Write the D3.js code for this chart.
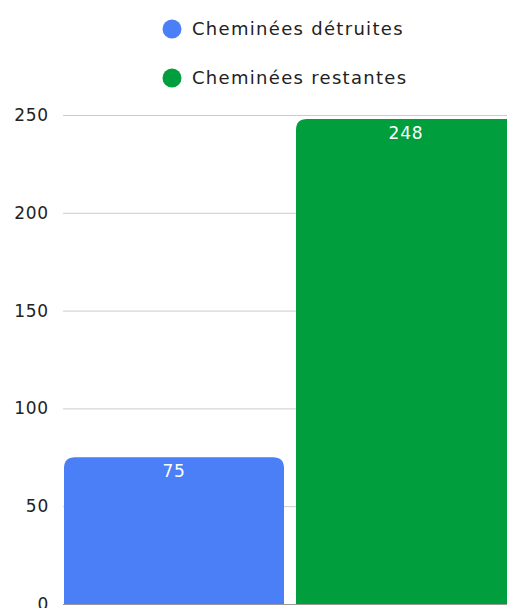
<html lang="en">
<head>
<meta charset="UTF-8">
<title>Cheminées</title>
<script src="https://d3js.org/d3.v7.min.js"></script>
<style>
  body { margin: 0; background: #fff; overflow: hidden; }
  svg { display: block; font-family: "DejaVu Sans", "Noto Sans", sans-serif; }
</style>
</head>
<body>
<div id="chart"></div>
<script>
// data
var categories = ["Cheminées détruites", "Cheminées restantes"];
var values = [75, 248];
var colors = ["#4a7ff8", "#009e3c"];
var yTicks = [0, 50, 100, 150, 200, 250];

var width = 507, height = 608;

var svg = d3.select("#chart").append("svg")
    .attr("width", width)
    .attr("height", height);

// scales
var y = d3.scaleLinear().domain([0, 250]).range([604, 115]);
var x = d3.scaleBand()
    .domain(categories)
    .range([58, 58 + 2 * 232])
    .paddingInner(12 / 232)
    .paddingOuter(6 / 232);

// gridlines + tick labels
var grid = svg.append("g");
grid.selectAll("line")
    .data(yTicks.filter(function(d) { return d > 0; }))
    .enter().append("line")
    .attr("x1", 63).attr("x2", width)
    .attr("y1", function(d) { return y(d) + 0.5; })
    .attr("y2", function(d) { return y(d) + 0.5; })
    .attr("stroke", "#cccccc")
    .attr("stroke-width", 1);

grid.selectAll("text")
    .data(yTicks)
    .enter().append("text")
    .attr("x", 49)
    .attr("y", function(d) { return y(d); })
    .attr("dy", "0.35em")
    .attr("text-anchor", "end")
    .style("font-size", "17px")
    .style("letter-spacing", "0.8px")
    .attr("fill", "#222")
    .text(function(d) { return d; });

// bars with rounded top corners
function topRounded(x0, y0, w, h, r) {
  r = Math.min(r, h, w / 2);
  return "M" + x0 + "," + (y0 + h) +
    "V" + (y0 + r) +
    "Q" + x0 + "," + y0 + " " + (x0 + r) + "," + y0 +
    "H" + (x0 + w - r) +
    "Q" + (x0 + w) + "," + y0 + " " + (x0 + w) + "," + (y0 + r) +
    "V" + (y0 + h) + "Z";
}

var bars = svg.append("g");
bars.selectAll("path")
    .data(values)
    .enter().append("path")
    .attr("fill", function(d, i) { return colors[i]; })
    .attr("d", function(d, i) {
      var bx = x(categories[i]);
      return topRounded(bx, y(d), x.bandwidth(), y(0) - y(d), 11);
    });

bars.selectAll("text")
    .data(values)
    .enter().append("text")
    .attr("x", function(d, i) { return x(categories[i]) + x.bandwidth() / 2; })
    .attr("y", function(d) { return y(d) + 14; })
    .attr("dy", "0.35em")
    .attr("text-anchor", "middle")
    .attr("fill", "#fff")
    .style("font-size", "17px")
    .style("letter-spacing", "0.8px")
    .text(function(d) { return d; });

// baseline
svg.append("line")
    .attr("x1", 63).attr("x2", width)
    .attr("y1", y(0) + 0.5).attr("y2", y(0) + 0.5)
    .attr("stroke", "#999")
    .attr("stroke-width", 1);

// legend
var legend = svg.append("g").selectAll("g")
    .data(categories)
    .enter().append("g")
    .attr("transform", function(d, i) { return "translate(172," + (29 + i * 49) + ")"; });

legend.append("circle")
    .attr("r", 9.5)
    .attr("fill", function(d, i) { return colors[i]; });

legend.append("text")
    .attr("x", 20)
    .attr("dy", "0.35em")
    .attr("fill", "#222")
    .style("font-size", "18px")
    .style("letter-spacing", "1.3px")
    .text(function(d) { return d; });
</script>
</body>
</html>
